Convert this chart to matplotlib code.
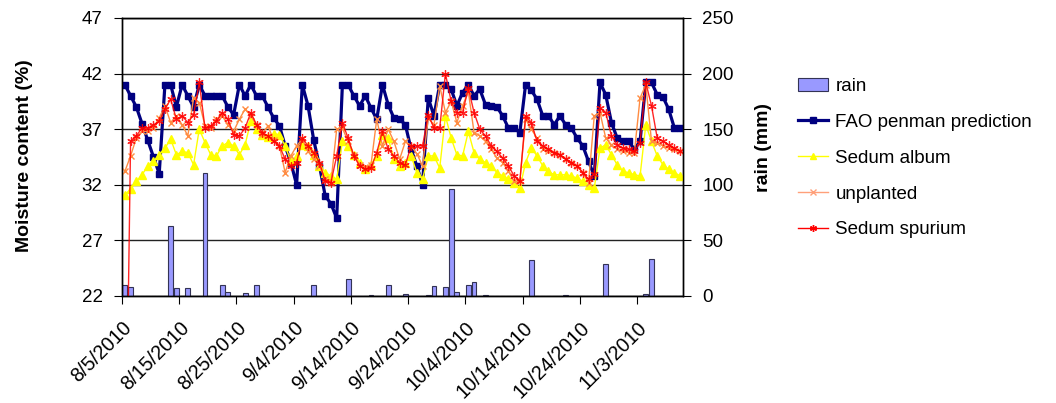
import numpy as np
import pandas as pd
import matplotlib
matplotlib.use("Agg")
import matplotlib.pyplot as plt
from matplotlib.patches import Patch
from matplotlib.lines import Line2D

plt.rcParams['font.family'] = ['Liberation Sans', 'DejaVu Sans']

# daily readings, 8/5/2010 .. 11/10/2010
start_date = "2010-08-05"

fao = [41, 40, 39, 37.5, 36, 34.5, 33, 41, 41, 39,
       41, 40, 39, 41, 40, 40, 40, 40, 39, 38.3,
       41, 40, 41, 40, 40, 39, 38, 37.3, 35.5, 34,
       32, 41, 39.1, 36, 33.7, 31, 30.3, 29, 41, 41,
       40, 39.1, 40, 38.9, 37.9, 41, 39.2, 38, 37.9, 37.4,
       35.2, 33.7, 32, 39.8, 38.2, 41, 41, 40.6, 39.1, 40.3,
       41, 40, 40.6, 39.2, 39.1, 39, 38.2, 37.1, 37.1, 36.7,
       41, 40.5, 39.7, 38.2, 38.2, 37.4, 38.2, 37.4, 37.1, 36.2,
       35.5, 34.1, 32.8, 41.2, 40.1, 37.6, 36.2, 35.9, 35.9, 35.2,
       35.9, 41.2, 41.2, 40.1, 39.9, 38.8, 37.1, 37.1]

sedum_album = [31.1, 31.6, 32.3, 32.9, 33.7, 34.1, 34.7, 35.3, 36.1, 34.7,
               35, 34.9, 33.8, 37, 35.8, 34.7, 34.6, 35.5, 35.8, 35.5,
               34.7, 35.6, 37.7, 37, 36.5, 36.3, 36.6, 36.5, 35.5, 34.1,
               34.6, 35.6, 35.5, 34.7, 33.7, 33.1, 32.8, 32.5, 35.9, 35.5,
               34.7, 34, 33.4, 33.8, 34.6, 36.5, 36.2, 34.3, 33.7, 34,
               34.6, 33.1, 32.5, 34.6, 34.6, 33.5, 38.2, 36.2, 34.7, 34.6,
               36.8, 34.9, 34.3, 34, 33.7, 33.1, 32.8, 32.5, 32.2, 31.7,
               34, 35.3, 34.6, 33.7, 33.2, 32.9, 32.9, 32.9, 32.8, 32.6,
               32.3, 32, 31.7, 35.3, 35.6, 34.7, 33.8, 33.2, 33.1, 32.9,
               32.8, 37.4, 35.9, 34.6, 33.8, 33.4, 33.1, 32.8]

unplanted = [33.2, 34.6, 36.2, 36.8, 36.8, 37.1, 38, 39.1, 37.6, 38.2,
             37.4, 36.4, 39.8, 39.4, 37.3, 37.1, 37.9, 38.2, 37.4, 36.8,
             37.9, 38.8, 38.2, 37.4, 36.6, 37.3, 36, 35.5, 33.1, 34.6,
             35.5, 36.1, 35, 34.3, 33.7, 32.5, 32.2, 37, 37.1, 35.9,
             34.7, 33.8, 33.6, 33.8, 37.9, 35.5, 37, 35.9, 34.3, 35.9,
             35.5, 34.8, 33.7, 38, 37.4, 40.9, 38.5, 39.5, 37.6, 39.1,
             40.4, 36.7, 36.4, 35.9, 35.2, 34.4, 34, 33.2, 32.3, 32.3,
             37.9, 37, 36.2, 35.2, 35, 34.9, 34.7, 34.3, 34, 33.7,
             33.1, 32.2, 38.2, 38.5, 36.2, 35.6, 35.2, 35, 34.9, 34.9,
             39.8, 41, 35.9, 35.8, 35.5, 35.3, 35.2, 35]

sedum_spurium = [0, 35.9, 36.4, 37.1, 37.1, 37.4, 37.7, 38.8, 39.7, 37.9,
                 38.2, 37.6, 38.3, 41.2, 37.1, 37.3, 37.7, 38.5, 37.9, 36.5,
                 36.4, 37.1, 38.5, 37.4, 36.7, 36.4, 35.9, 35.5, 34.3, 33.7,
                 34, 36.2, 35.5, 34.9, 34, 32.3, 32.2, 34.6, 37.6, 36.2,
                 34.6, 33.7, 33.4, 33.5, 34.9, 36.8, 35.2, 34.6, 34, 33.8,
                 35.5, 35.5, 35.5, 38.3, 37.1, 37.1, 42, 39.5, 38.5, 38.5,
                 40.7, 38.5, 37, 36.4, 35.5, 35, 34.4, 33.7, 32.8, 32.3,
                 38.2, 37.6, 35.9, 35.5, 35.2, 34.9, 34.7, 34.3, 34, 33.7,
                 33.1, 32.5, 33, 38.9, 38.5, 36.4, 35.6, 35.3, 35.2, 35,
                 35.8, 41.2, 39.1, 36.2, 35.9, 35.6, 35.3, 35]

rain = [10, 8, 0, 0, 0, 0, 0, 0, 63, 7,
        0, 7, 0, 0, 111, 0, 0, 10, 4, 0,
        0, 2.5, 0, 10, 0, 0, 0, 0, 0, 0,
        0, 0, 0, 10, 0, 0, 0, 0, 0, 15,
        0, 0, 0, 0.6, 0, 0, 10, 0, 0, 2,
        0, 0, 0, 0.6, 9, 0, 8, 96, 4, 0,
        10, 13, 0, 0.6, 0, 0, 0, 0, 0, 0,
        0, 32, 0, 0, 0, 0, 0, 0.6, 0, 0,
        0, 0, 0, 0, 29, 0, 0, 0, 0, 0,
        0, 1.5, 33, 0, 0, 0, 0, 0]

dates = pd.date_range(start_date, periods=len(fao))
x = np.arange(len(dates))

fig = plt.figure(figsize=(10.56, 4.03), dpi=100)
ax = fig.add_axes([122 / 1056, 107 / 403, 561 / 1056, 278 / 403])
ax2 = ax.twinx()

# rain bars behind the lines
ax2.bar(x, rain, width=0.85, color="#9999FF", edgecolor="#333355", linewidth=0.8)
ax2.set_ylim(0, 250)
ax2.set_yticks(range(0, 251, 50))
ax2.grid(axis="y", color="#222222", linewidth=1.0)
ax2.set_axisbelow(True)

ax.set_zorder(ax2.get_zorder() + 1)
ax.patch.set_visible(False)

ax.plot(x, fao, color="#000080", lw=2.3, marker="s", ms=4.5, mec="#000080")
ax.plot(x, sedum_album, color="#FFFF00", lw=1, marker="^", ms=5.5, mec="#FFFF00")
ax.plot(x, unplanted, color="#FF8C42", lw=1, marker="x", ms=5, mew=1)
ax.plot(x, sedum_spurium, color="#FF0000", lw=1, marker=(6, 2, 0), ms=6, mew=0.9, alpha=0.85)

ax.set_ylim(22, 47)
ax.set_yticks(range(22, 48, 5))
ax.set_xlim(-0.5, len(x) - 0.5)
tick_pos = np.arange(0, len(x), 10) - 0.5
ax.set_xticks(tick_pos)
ax.set_xticklabels([f"{d.month}/{d.day}/{d.year}" for d in dates[::10]],
                   rotation=45, ha="right", rotation_mode="anchor")

for a in (ax, ax2):
    for s in a.spines.values():
        s.set_color("black")
        s.set_linewidth(1.0)
ax.tick_params(axis="y", labelsize=13.5, length=6, pad=8, direction="out")
ax.tick_params(axis="x", labelsize=14.2, length=6, pad=10, direction="out")
ax2.tick_params(axis="y", labelsize=13.5, length=6, pad=8, direction="out")

fig.text(25 / 1056, 1 - 156 / 403, "Moisture content (%)", rotation=90,
         ha="center", va="center", fontsize=14, fontweight="bold")
fig.text(763 / 1056, 1 - 148 / 403, "rain (mm)", rotation=90,
         ha="center", va="center", fontsize=14, fontweight="bold")

handles = [
    Patch(facecolor="#9999FF", edgecolor="#333355", linewidth=0.8),
    Line2D([], [], color="#000080", lw=2.3, marker="s", ms=4),
    Line2D([], [], color="#FFFF00", lw=1, marker="^", ms=5),
    Line2D([], [], color="#FFA07A", lw=1, marker="x", ms=4),
    Line2D([], [], color="#FF0000", lw=1, marker=(6, 2, 0), ms=5),
]
labels = ["rain", "FAO penman prediction", "Sedum album", "unplanted", "Sedum spurium"]
fig.legend(handles, labels, loc="upper left", bbox_to_anchor=(781 / 1056, 1 - 61 / 403),
           frameon=False, fontsize=13.5, handlelength=1.6, labelspacing=1.0,
           handletextpad=0.4)

fig.savefig("out.png", dpi=100)
